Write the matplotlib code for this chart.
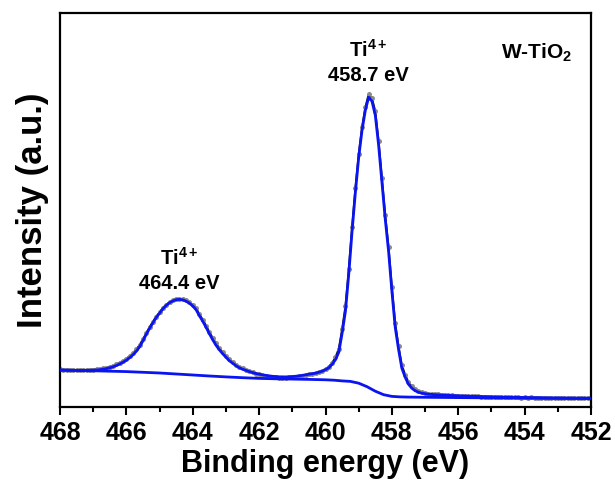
import numpy as np
import matplotlib
matplotlib.use("Agg")
import matplotlib.pyplot as plt
from matplotlib.ticker import MultipleLocator

plt.rcParams['font.family'] = ['Liberation Sans', 'DejaVu Sans']
plt.rcParams['font.weight'] = 'bold'
plt.rcParams['mathtext.fontset'] = 'custom'
plt.rcParams['mathtext.rm'] = 'Liberation Sans:bold'
plt.rcParams['mathtext.bf'] = 'Liberation Sans:bold'
plt.rcParams['mathtext.default'] = 'bf'

# binding energy grid, 468 -> 452 eV in 0.1 eV steps
energy = np.round(np.linspace(468.0, 452.0, 161), 1)

# measured Ti 2p spectrum (a.u.)
measured = [
    37.8, 37.3, 37.6, 37.2, 37.5, 37.0, 37.4, 37.1, 37.3, 37.5,
    37.6, 38.0, 38.3, 38.9, 39.5, 40.5, 41.6, 43.0, 44.6, 46.5,
    48.6, 51.2, 54.3, 57.8, 62.4, 68.0, 74.2, 80.1, 85.6, 90.6,
    95.0, 99.3, 102.5, 105.0, 107.0, 108.2, 108.5, 108.0, 106.9, 105.0,
    102.3, 98.8, 93.0, 87.5, 81.6, 75.2, 69.3, 63.8, 59.2, 55.0,
    51.4, 47.8, 45.2, 42.5, 40.4, 38.7, 37.3, 35.9, 34.8, 33.6,
    32.7, 31.8, 31.2, 30.6, 30.1, 29.8, 29.6, 29.5, 29.6, 29.7,
    30.0, 30.3, 30.8, 31.4, 32.0, 32.7, 33.4, 34.2, 35.3, 36.6,
    38.3, 40.6, 44.4, 50.0, 58.5, 78.0, 101.0, 138.0, 180.0, 219.0,
    253.0, 280.0, 300.0, 313.0, 309.0, 296.0, 266.0, 229.0, 192.0, 160.0,
    120.0, 84.0, 61.0, 42.0, 32.5, 25.0, 20.8, 18.0, 16.2, 15.0,
    14.2, 13.6, 13.3, 12.8, 12.7, 12.3, 12.2, 11.9, 11.9, 11.6,
    11.5, 11.2, 11.3, 10.9, 11.0, 10.7, 10.8, 10.5, 10.6, 10.3,
    10.4, 10.1, 10.2, 9.9, 10.1, 9.8, 10.0, 9.7, 9.9, 9.6,
    9.8, 9.5, 9.7, 9.4, 9.6, 9.3, 9.5, 9.2, 9.4, 9.1,
    9.3, 9.0, 9.2, 8.9, 9.2, 8.9, 9.1, 8.8, 9.0, 8.8,
    8.9,
]

# fitted envelope
envelope = [
    37.2, 37.1, 37.0, 36.9, 36.9, 36.8, 36.8, 36.8, 36.8, 36.9,
    37.0, 37.2, 37.5, 38.0, 38.6, 39.4, 40.4, 41.7, 43.2, 45.0,
    47.0, 49.5, 52.5, 56.0, 60.5, 66.5, 73.0, 79.0, 84.5, 89.8,
    94.0, 98.5, 101.8, 104.5, 106.3, 107.5, 107.8, 107.3, 106.0, 104.0,
    101.2, 97.5, 91.5, 86.0, 80.0, 73.5, 67.5, 62.0, 57.5, 53.5,
    50.0, 46.5, 44.0, 41.5, 39.5, 38.0, 36.8, 35.6, 34.6, 33.7,
    33.0, 32.3, 31.8, 31.3, 30.9, 30.6, 30.4, 30.3, 30.3, 30.4,
    30.6, 30.9, 31.3, 31.8, 32.4, 33.0, 33.5, 34.0, 35.0, 36.0,
    37.5, 39.5, 43.0, 47.5, 55.0, 74.0, 96.0, 133.0, 176.0, 215.0,
    250.0, 277.0, 297.0, 310.0, 306.0, 292.0, 262.0, 225.0, 188.0, 156.0,
    116.0, 80.0, 58.0, 39.0, 30.0, 23.0, 19.0, 16.5, 15.0, 14.0,
    13.5, 13.0, 12.7, 12.5, 12.3, 12.1, 12.0, 11.8, 11.7, 11.5,
    11.4, 11.2, 11.1, 11.0, 10.9, 10.8, 10.7, 10.6, 10.5, 10.4,
    10.3, 10.2, 10.1, 10.1, 10.0, 9.9, 9.9, 9.8, 9.8, 9.7,
    9.7, 9.6, 9.6, 9.5, 9.5, 9.4, 9.4, 9.3, 9.3, 9.3,
    9.2, 9.2, 9.2, 9.1, 9.1, 9.1, 9.0, 9.0, 9.0, 9.0,
    9.0,
]

# Shirley background
bg_energy = [468, 467, 466, 465, 464.5, 464, 463.5, 463, 462.5, 462, 461.5, 461,
             460.5, 460, 459.75, 459.5, 459.25, 459, 458.75, 458.5, 458.25,
             458, 457.75, 457.5, 457, 456, 455, 454, 453, 452]
bg_level = [37.0, 36.4, 35.6, 34.2, 33.2, 32.2, 31.2, 30.3, 29.5, 28.8, 28.4, 28.1,
            27.8, 27.4, 27.0, 26.3, 25.8, 24.0, 20.5, 16.0, 12.5,
            10.8, 10.3, 10.1, 9.9, 9.6, 9.3, 9.0, 8.8, 8.6]

fig = plt.figure(figsize=(6.15, 4.9), dpi=100)
ax = fig.add_axes([0.0976, 0.169, 0.8634, 0.804])

ax.plot(energy, measured, color='#111111', lw=1.4, zorder=2)
ax.plot(energy, measured, 'o', color='#8a8a8a', ms=3.6, mew=0, zorder=2)
ax.plot(energy, envelope, color='#0a14f0', lw=2.0, zorder=3)
ax.plot(bg_energy, bg_level, color='#0a14f0', lw=2.0, zorder=3)

ax.set_xlim(468, 452)
ax.set_ylim(0, 394)
ax.xaxis.set_major_locator(MultipleLocator(2))
ax.xaxis.set_minor_locator(MultipleLocator(1))
ax.tick_params(axis='x', which='major', direction='out', length=6, width=1.5,
               labelsize=18, pad=4)
ax.tick_params(axis='x', which='minor', direction='out', length=3.5, width=1.5)
ax.set_yticks([])
for s in ax.spines.values():
    s.set_linewidth(1.6)

ax.set_xlabel('Binding energy (eV)', fontsize=22, fontweight='bold', labelpad=3)
ax.set_ylabel('Intensity (a.u.)', fontsize=25, fontweight='bold', labelpad=8)

ax.text(458.7, 346, r'Ti$^{4+}$', ha='center', va='bottom', fontsize=14.5)
ax.text(458.7, 341, '458.7 eV', ha='center', va='top', fontsize=14.5)
ax.text(464.4, 138, r'Ti$^{4+}$', ha='center', va='bottom', fontsize=14.5)
ax.text(464.4, 133, '464.4 eV', ha='center', va='top', fontsize=14.5)
ax.text(454.7, 354, r'W-TiO$_2$', ha='left', va='center', fontsize=15)

fig.savefig('out.png', dpi=100)
